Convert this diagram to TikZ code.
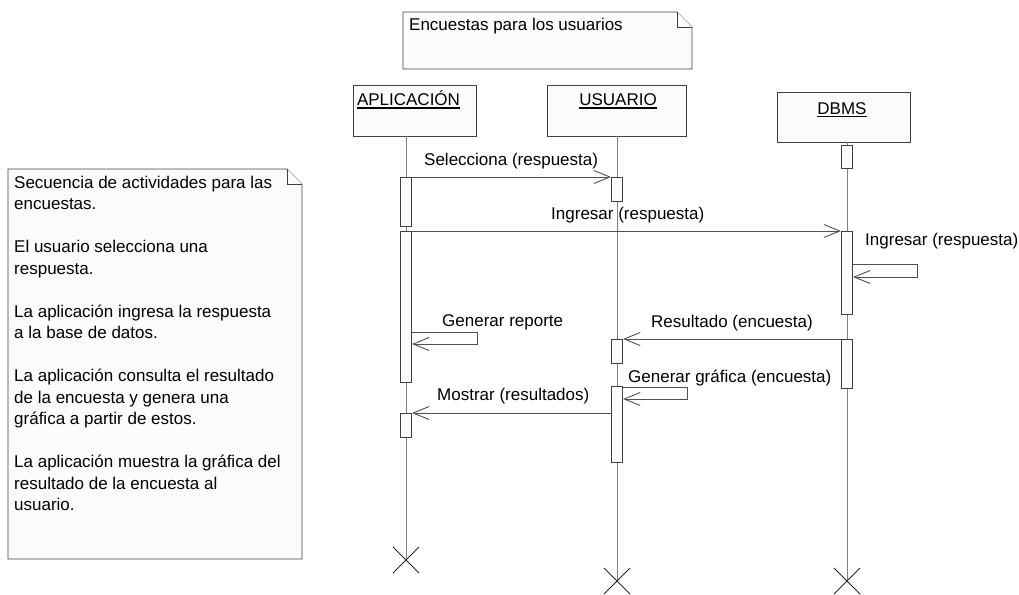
\documentclass[tikz,border=0pt]{standalone}
\usepackage{fontspec}
\setmainfont{Liberation Sans}
\usetikzlibrary{arrows.meta}
\definecolor{boxfill}{RGB}{251,251,251}
\definecolor{edge}{RGB}{64,64,64}
\definecolor{lifec}{RGB}{128,128,128}
\definecolor{msgc}{RGB}{80,80,80}
\newcommand{\hdul}[1]{\setbox0\hbox{#1}\rlap{\rule[-3.2pt]{\wd0}{1.5pt}}\box0}
\tikzset{
  every node/.style={font=\fontsize{17}{21.5}\selectfont, inner sep=0pt},
  headbox/.style={draw=edge, fill=boxfill, line width=0.9pt},
  headtxt/.style={anchor=base},
  life/.style={draw=lifec, line width=0.9pt},
  actbox/.style={draw=edge, fill=boxfill, line width=0.9pt, minimum width=11pt, anchor=north},
  msg/.style={draw=msgc, line width=0.9pt, -{Straight Barb[length=16pt,width=13pt,line width=0.9pt]}},
  lbl/.style={anchor=base west},
  notebox/.style={draw=edge, fill=boxfill, line width=0.9pt},
  crossl/.style={draw=black!85, line width=0.9pt},
}
\begin{document}
\begin{tikzpicture}[x=1pt,y=-1pt]
\useasboundingbox (0,0) rectangle (1019,594);

% ---- top note ----
\coordinate (tn1) at (403,12);
\coordinate (tn2) at (677,12);
\coordinate (tn3) at (692,27);
\coordinate (tn4) at (692,69);
\coordinate (tn5) at (403,69);
\draw[notebox] (tn1) -- (tn2) -- (tn3) -- (tn4) -- (tn5) -- cycle;
\draw[notebox] (tn2) -- (677,27) -- (tn3);
\node[lbl] (tnt) at (409,30.5) {Encuestas para los usuarios};

% ---- left note ----
\coordinate (ln1) at (8,169);
\coordinate (ln2) at (287,169);
\coordinate (ln3) at (302,184);
\coordinate (ln4) at (302,559);
\coordinate (ln5) at (8,559);
\draw[notebox] (ln1) -- (ln2) -- (ln3) -- (ln4) -- (ln5) -- cycle;
\draw[notebox] (ln2) -- (287,184) -- (ln3);
\node[anchor=north west, align=left] (lnt) at (14,175.5) {Secuencia de actividades para las\\
encuestas.\\[21.5pt]
El usuario selecciona una\\
respuesta.\\[21.5pt]
La aplicación ingresa la respuesta\\
a la base de datos.\\[21.5pt]
La aplicación consulta el resultado\\
de la encuesta y genera una\\
gráfica a partir de estos.\\[21.5pt]
La aplicación muestra la gráfica del\\
resultado de la encuesta al\\
usuario.};

% ---- heads ----
\node[headbox, minimum width=123pt, minimum height=51pt] (hA) at (414.5,110.5) {};
\node[headbox, minimum width=139pt, minimum height=51pt] (hU) at (616.5,110.5) {};
\node[headbox, minimum width=133pt, minimum height=50pt] (hD) at (843.5,117) {};
\node[headtxt] (tA) at (408.5,105.5) {\hdul{APLICACIÓN}};
\node[headtxt] (tU) at (618,105.5) {\hdul{USUARIO}};
\node[headtxt] (tD) at (842,114) {\hdul{DBMS}};

% ---- lifeline ends ----
\coordinate (eA) at (406,560);
\coordinate (eU) at (617,581);
\coordinate (eD) at (847,581);
\draw[life] (hA.south -| eA) -- (eA);
\draw[life] (hU.south -| eU) -- (eU);
\draw[life] (hD.south -| eD) -- (eD);
\foreach \c in {eA,eU,eD}{
  \draw[crossl] ([shift={(-13,-13)}]\c) -- ([shift={(13,13)}]\c);
  \draw[crossl] ([shift={(-13,13)}]\c) -- ([shift={(13,-13)}]\c);
}

% ---- activations ----
\node[actbox, minimum height=49pt] (a1) at (406,177) {};
\node[actbox, minimum height=151pt] (a2) at (406,231) {};
\node[actbox, minimum height=24pt] (a3) at (406,413) {};
\node[actbox, minimum height=24pt] (u1) at (617,177) {};
\node[actbox, minimum height=24pt] (u2) at (617,339) {};
\node[actbox, minimum height=76pt] (u3) at (617,386) {};
\node[actbox, minimum height=23pt] (d0) at (847,145) {};
\node[actbox, minimum height=83pt] (d1) at (847,231) {};
\node[actbox, minimum height=49pt] (d2) at (847,339) {};

% ---- messages ----
\draw[msg] (a1.north east) -- (u1.north west);
\node[lbl] (m1) at (424,165) {Selecciona (respuesta)};

\draw[msg] (a2.north east) -- (d1.north west);
\node[lbl] (m2) at (551,219) {Ingresar (respuesta)};

\coordinate (s1) at (917,264);
\draw[msg] (d1.east |- s1) -- (s1) -- (917,277) -- (d1.east |- 0,277);
\node[lbl] (m3) at (865,245) {Ingresar (respuesta)};

\coordinate (s2) at (477,332);
\draw[msg] (a2.east |- s2) -- (s2) -- (477,344) -- (a2.east |- 0,344);
\node[lbl] (m4) at (442,326) {Generar reporte};

\draw[msg] (d2.north west) -- (u2.north east);
\node[lbl] (m5) at (651,327) {Resultado (encuesta)};

\coordinate (s3) at (687,387);
\draw[msg] (u3.east |- s3) -- (s3) -- (687,399) -- (u3.east |- 0,399);
\node[lbl] (m6) at (628,382) {Generar gráfica (encuesta)};

\draw[msg] (u3.west |- a3.north) -- (a3.north east);
\node[lbl] (m7) at (437,400) {Mostrar (resultados)};
\end{tikzpicture}
\end{document}
